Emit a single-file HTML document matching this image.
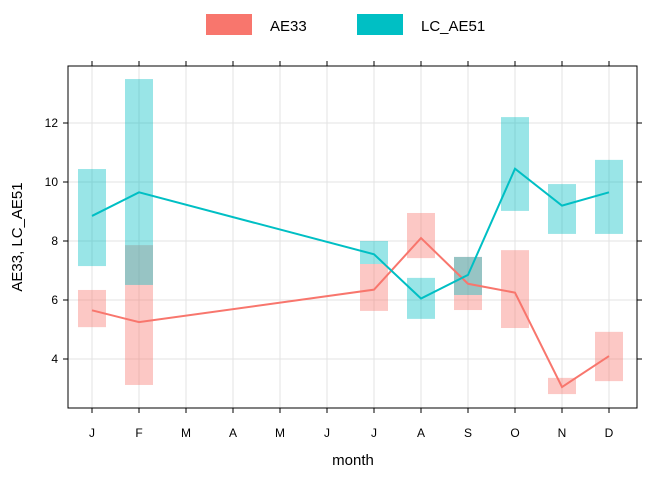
<!DOCTYPE html>
<html><head><meta charset="utf-8"><style>
body{margin:0;background:#fff;font-family:"Liberation Sans",Arial,sans-serif}
svg text{font-family:"Liberation Sans",Arial,sans-serif}
</style></head><body>
<svg id="c" width="672" height="480" xmlns="http://www.w3.org/2000/svg"></svg>
<script>
const months=["J","F","M","A","M","J","J","A","S","O","N","D"];
const idx=[0,1,6,7,8,9,10,11];
const aeMean=[5.65,5.25,6.35,8.1,6.55,6.25,3.05,4.1];
const aeLow=[5.08,3.12,5.63,7.42,5.66,5.05,2.81,3.25];
const aeHigh=[6.34,7.86,7.22,8.95,7.46,7.69,3.36,4.92];
const lcMean=[8.85,9.65,7.55,6.05,6.85,10.45,9.2,9.65];
const lcLow=[7.15,6.51,7.22,5.36,6.17,9.02,8.24,8.24];
const lcHigh=[10.44,13.49,8.0,6.75,7.46,12.2,9.93,10.75];
const yTicks=[4,6,8,10,12];
const NS="http://www.w3.org/2000/svg",svg=document.getElementById('c');
const L=68,R=637,T=66,B=408;
const x=i=>92+i*47, y=v=>477-v*29.5;
function el(t,a,p){const e=document.createElementNS(NS,t);for(const k in a)e.setAttribute(k,a[k]);(p||svg).appendChild(e);return e;}
// grid
months.forEach((m,i)=>{const g=el('line',{x1:x(i),x2:x(i),y1:T,y2:B,stroke:'#e3e3e3'});

});
yTicks.forEach(v=>{const g=el('line',{x1:L,x2:R,y1:y(v),y2:y(v),stroke:'#e3e3e3'});

});
function bands(lo,hi,col,name){idx.forEach((m,k)=>{const r=el('rect',{x:x(m)-14,width:28,y:y(hi[k]),height:y(lo[k])-y(hi[k]),fill:col,'fill-opacity':0.4});

});}
bands(aeLow,aeHigh,'#F8766D','ae33');
bands(lcLow,lcHigh,'#00BFC4','lc-ae51');
function line(vals,col,name){const p=el('polyline',{points:idx.map((m,k)=>x(m)+','+y(vals[k])).join(' '),fill:'none',stroke:col,'stroke-width':2});

}
line(aeMean,'#F8766D','ae33-line');
line(lcMean,'#00BFC4','lc-ae51-line');
const f=el('rect',{x:L,y:T,width:R-L,height:B-T,fill:'none',stroke:'#000'});


months.forEach((m,i)=>{el('line',{x1:x(i),x2:x(i),y1:B,y2:B+5,stroke:'#000'});el('line',{x1:x(i),x2:x(i),y1:T,y2:T-5,stroke:'#000'});
const t=el('text',{x:x(i),y:437,'text-anchor':'middle','font-size':12});t.textContent=m;

});
yTicks.forEach(v=>{el('line',{x1:L,x2:L-5,y1:y(v),y2:y(v),stroke:'#000'});el('line',{x1:R,x2:R+5,y1:y(v),y2:y(v),stroke:'#000'});
const t=el('text',{x:L-10,y:y(v)+4,'text-anchor':'end','font-size':12});t.textContent=v;

});
</script>
<svg width="672" height="480" style="position:absolute;left:0;top:0" xmlns="http://www.w3.org/2000/svg">
<rect x="206" y="14" width="46" height="21" fill="#F8766D"/>
<text x="270" y="31" font-size="15">AE33</text>
<rect x="357" y="14" width="46" height="21" fill="#00BFC4"/>
<text x="421" y="31" font-size="15">LC_AE51</text>
<text x="353" y="465" font-size="15" text-anchor="middle">month</text>
<text x="22" y="237" font-size="15" text-anchor="middle" transform="rotate(-90 22 237)">AE33, LC_AE51</text>
</svg>
</body></html>
